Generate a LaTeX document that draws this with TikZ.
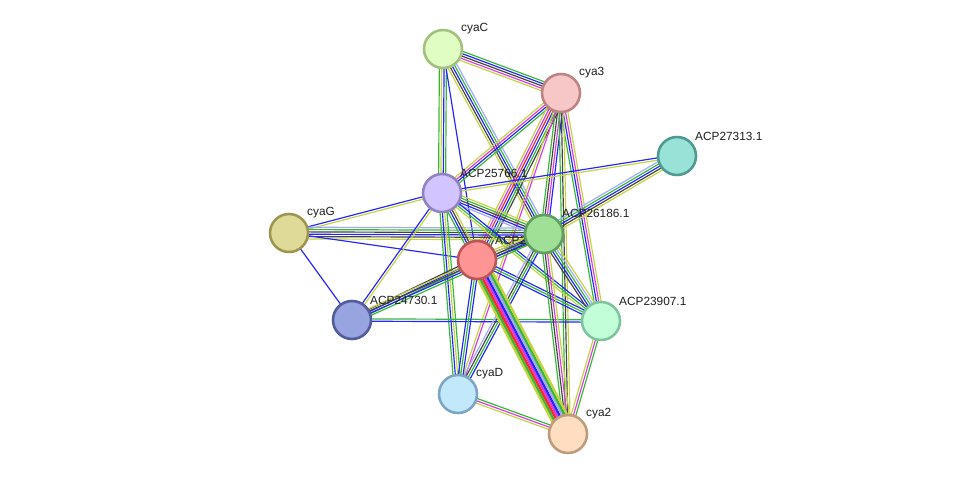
\documentclass[tikz,border=0pt]{standalone}
\usepackage{fontspec}
\setmainfont{Liberation Sans}
\usetikzlibrary{calc}
% evidence channels
\definecolor{chG}{HTML}{35B935}
\definecolor{chB}{HTML}{2424FF}
\definecolor{chK}{HTML}{444444}
\definecolor{chY}{HTML}{C4D33F}
\definecolor{chM}{HTML}{DD3ADD}
\definecolor{chL}{HTML}{A4A8FF}
\definecolor{chR}{HTML}{FF2828}
% protein nodes
\definecolor{cyaCfill}{HTML}{E0FDC4}\definecolor{cyaCline}{HTML}{A2C17E}
\definecolor{cyaTfill}{HTML}{F7C6C6}\definecolor{cyaTline}{HTML}{BE8484}
\definecolor{tealfill}{HTML}{98E2D8}\definecolor{tealline}{HTML}{4E9A90}
\definecolor{lilafill}{HTML}{D2C4FF}\definecolor{lilaline}{HTML}{9282C2}
\definecolor{cyaGfill}{HTML}{DFDA98}\definecolor{cyaGline}{HTML}{9E9650}
\definecolor{grnfill}{HTML}{A0E096}\definecolor{grnline}{HTML}{5E9E5E}
\definecolor{redfill}{HTML}{FF9494}\definecolor{redline}{HTML}{BC5656}
\definecolor{bluefill}{HTML}{98A4E0}\definecolor{blueline}{HTML}{505C9C}
\definecolor{mintfill}{HTML}{C2FFD8}\definecolor{mintline}{HTML}{7EC49E}
\definecolor{skyfill}{HTML}{C2E8FC}\definecolor{skyline}{HTML}{7EA6C4}
\definecolor{peachfill}{HTML}{FFDDC0}\definecolor{peachline}{HTML}{BE9C7C}

% parallel lines between two nodes, one per channel
\newcommand{\bundle}[5][1.0]{%
  \pgfmathsetmacro{\gap}{max(2.0,#1)}
  \foreach \col [count=\i] in {#5} {
    \pgfmathsetmacro{\off}{(\i-(#4+1)/2)*\gap}
    \draw[line width=#1pt, color=\col] ($(#2)!\off pt!90:(#3)$) -- ($(#3)!\off pt!-90:(#2)$);
  }
}

\begin{document}
\begin{tikzpicture}[
    x=0.03cm, y=-0.03cm,
    prot/.style={circle, minimum size=1.14cm, inner sep=0pt, line width=2.2pt},
    lbl/.style={anchor=west, inner sep=0pt, text=black!88, font=\fontsize{10.1}{12}\selectfont},
]
    \useasboundingbox (0,0) rectangle (975,480);

    % positions
    \coordinate (cyaC) at (443,49);
    \coordinate (cya3) at (561,93);
    \coordinate (acp27313) at (677,156);
    \coordinate (acp25766) at (442,193);
    \coordinate (cyaG) at (289,233);
    \coordinate (acp26186) at (544,234);
    \coordinate (acp2) at (477,260);
    \coordinate (acp24730) at (352,320);
    \coordinate (acp23907) at (601,321);
    \coordinate (cyaD) at (458,394);
    \coordinate (cya2) at (568,434);

    % edges
    \bundle{cyaC}{cya3}{5}{chY,chM,chK,chB,chG}
    \bundle{cyaC}{acp25766}{4}{chG,chY,chB,chG}
    \bundle{cyaC}{acp2}{1}{chB}
    \bundle{cyaC}{acp26186}{5}{chY,chK,chB,chG,chL}
    \bundle{cya3}{acp25766}{4}{chY,chM,chB,chG}
    \bundle{cya3}{acp2}{6}{chY,chM,chR,chB,chG,chK}
    \bundle{cya3}{acp26186}{4}{chG,chK,chM,chB}
    \bundle{cya3}{acp23907}{4}{chG,chB,chM,chY}
    \bundle{cya3}{cya2}{3}{chG,chK,chY}
    \bundle{cya3}{cyaD}{2}{chY,chM}
    \bundle{acp27313}{acp25766}{2}{chB,chY}
    \bundle{acp27313}{acp26186}{5}{chL,chG,chB,chK,chY}
    \bundle{cyaG}{acp25766}{2}{chY,chB}
    \bundle{cyaG}{acp26186}{6}{chY,chK,chB,chK,chG,chL}
    \bundle{cyaG}{acp2}{1}{chB}
    \bundle{cyaG}{acp24730}{1}{chB}
    \bundle{acp25766}{acp2}{4}{chG,chB,chK,chY}
    \bundle{acp25766}{acp26186}{5}{chL,chB,chK,chG,chY}
    \bundle{acp25766}{acp23907}{3}{chY,chG,chB}
    \bundle{acp25766}{cyaD}{4}{chG,chB,chY,chG}
    \bundle{acp25766}{acp24730}{2}{chB,chY}
    \bundle{acp26186}{acp2}{4}{chY,chB,chG,chK}
    \bundle{acp24730}{acp2}{3}{chG,chB,chK}
    \bundle{acp24730}{acp26186}{4}{chG,chB,chK,chY}
    \bundle{acp24730}{acp23907}{2}{chB,chG}
    \bundle{acp2}{acp23907}{3}{chB,chG,chB}
    \bundle{acp26186}{acp23907}{5}{chK,chB,chG,chL,chY}
    \bundle{acp26186}{cya2}{4}{chG,chK,chM,chY}
    \bundle{acp26186}{cyaD}{4}{chL,chK,chG,chB}
    \bundle{acp2}{cyaD}{3}{chB,chG,chB}
    \bundle[2.0]{acp2}{cya2}{8}{chY,chG,chR,chM,chB,chL,chG,chY}
    \bundle{cyaD}{cya2}{3}{chY,chM,chG}
    \bundle{acp23907}{cya2}{3}{chY,chM,chG}

    % nodes and labels
    \node[prot, fill=cyaCfill, draw=cyaCline] (cyaC-n) at (cyaC) {};
    \node[lbl] (cyaC-l) at (461,29) {cyaC};
    \node[prot, fill=cyaTfill, draw=cyaTline] (cya3-n) at (cya3) {};
    \node[lbl] (cya3-l) at (579,73) {cya3};
    \node[prot, fill=tealfill, draw=tealline] (acp27313-n) at (acp27313) {};
    \node[lbl] (acp27313-l) at (695,136) {ACP27313.1};
    \node[prot, fill=lilafill, draw=lilaline] (acp25766-n) at (acp25766) {};
    \node[lbl] (acp25766-l) at (460,173) {ACP25766.1};
    \node[prot, fill=cyaGfill, draw=cyaGline] (cyaG-n) at (cyaG) {};
    \node[lbl] (cyaG-l) at (307,213) {cyaG};
    \node[prot, fill=redfill, draw=redline] (acp2-n) at (acp2) {};
    \node[lbl] (acp2-l) at (495,240) {ACP2};
    \node[prot, fill=grnfill, draw=grnline] (acp26186-n) at (acp26186) {};
    \node[lbl] (acp26186-l) at (562,213) {ACP26186.1};
    \node[prot, fill=bluefill, draw=blueline] (acp24730-n) at (acp24730) {};
    \node[lbl] (acp24730-l) at (370,300) {ACP24730.1};
    \node[prot, fill=mintfill, draw=mintline] (acp23907-n) at (acp23907) {};
    \node[lbl] (acp23907-l) at (619,301) {ACP23907.1};
    \node[prot, fill=skyfill, draw=skyline] (cyaD-n) at (cyaD) {};
    \node[lbl] (cyaD-l) at (476,374) {cyaD};
    \node[prot, fill=peachfill, draw=peachline] (cya2-n) at (cya2) {};
    \node[lbl] (cya2-l) at (586,414) {cya2};
\end{tikzpicture}
\end{document}
